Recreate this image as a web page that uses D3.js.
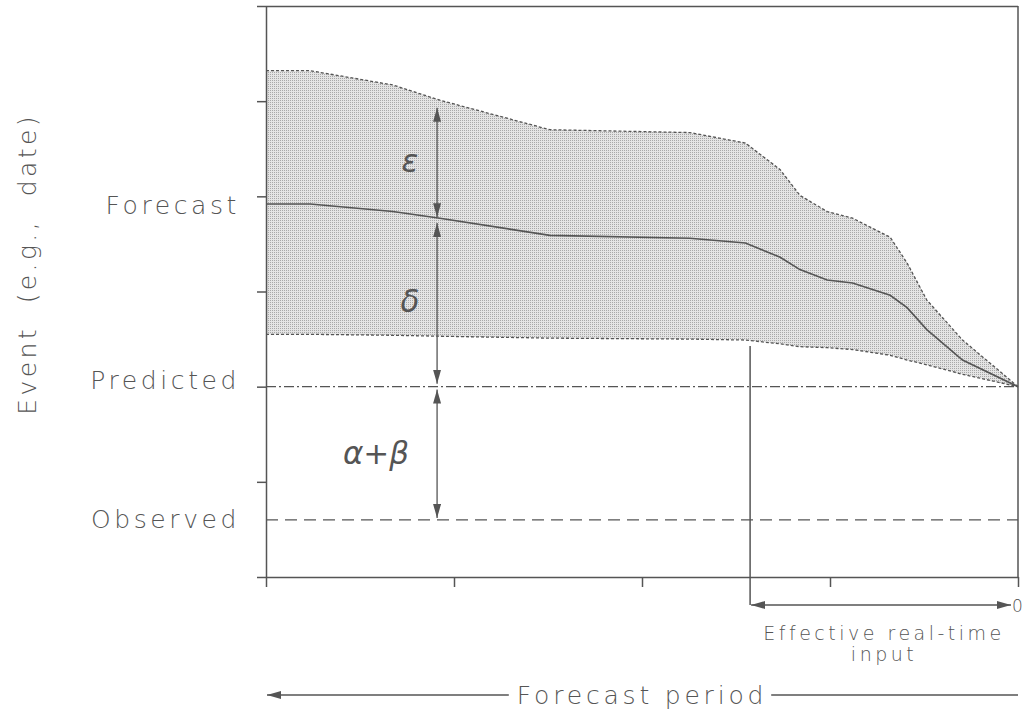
<!DOCTYPE html>
<html>
<head>
<meta charset="utf-8">
<script src="https://cdn.jsdelivr.net/npm/d3@7"></script>
<style>
  body { margin: 0; background: #fff; }
  svg text { font-family: "DejaVu Sans", sans-serif; fill: #555; font-weight: 200; }
</style>
</head>
<body>
<div id="chart"></div>
<script>
// forecast period (x units, 0 = start, 8 = event) and event values (y units)
const period = [0, 0.47, 1.35, 1.85, 3.02, 4.51, 5.10, 5.47, 5.68, 5.97, 6.24, 6.64, 6.82, 7.03, 7.41, 8];
const upperBound = [5.32, 5.32, 5.17, 5.01, 4.70, 4.67, 4.56, 4.28, 4.01, 3.84, 3.77, 3.57, 3.30, 2.91, 2.49, 2.00];
const forecast = [3.92, 3.92, 3.84, 3.77, 3.59, 3.56, 3.51, 3.36, 3.23, 3.12, 3.09, 2.96, 2.83, 2.60, 2.28, 2.00];
const lowerBound = [2.55, 2.55, 2.54, 2.53, 2.51, 2.50, 2.49, 2.45, 2.42, 2.41, 2.39, 2.33, 2.28, 2.23, 2.13, 2.00];

const predicted = 2;
const observed = 0.6;
const realTimeStart = 5.15;

const yTicks = [0, 1, 2, 3, 4, 5, 6];
const xTicks = [0, 2, 4, 6, 8];
const eventLabels = ['Forecast', 'Predicted', 'Observed'];
const eventValues = [4, 2, 0.6];

// error arrows: [from, to] in event units
const epsArrow = [4.93, 3.78];
const deltaArrow = [3.72, 2.03];
const abArrow = [1.97, 0.62];
const arrowAt = 1.82;

const width = 1023, height = 714;
const margin = {top: 6, right: 5, bottom: 137, left: 266};
const ink = '#555';

const svg = d3.select('#chart').append('svg')
    .attr('width', width).attr('height', height);

const x = d3.scaleLinear().domain([0, 8]).range([margin.left, width - margin.right]);
const y = d3.scaleLinear().domain([0, 6]).range([height - margin.bottom, margin.top]);

// stipple fill
const defs = svg.append('defs');
const pat = defs.append('pattern').attr('id', 'stipple')
    .attr('width', 2).attr('height', 2).attr('patternUnits', 'userSpaceOnUse');
pat.append('rect').attr('width', 2).attr('height', 2).attr('fill', '#e4e4e4');
pat.append('rect').attr('width', 1).attr('height', 1).attr('fill', '#a8a8a8');

defs.append('marker').attr('id', 'head')
    .attr('viewBox', '0 0 14 8').attr('refX', 14).attr('refY', 4)
    .attr('markerWidth', 14).attr('markerHeight', 8)
    .attr('markerUnits', 'userSpaceOnUse')
    .attr('orient', 'auto-start-reverse')
  .append('path').attr('d', 'M0,0L14,4L0,8Z').attr('fill', ink);

const pts = (vals) => period.map((p, i) => [p, vals[i]]);

// band
const band = pts(upperBound).concat(pts(lowerBound).reverse());
svg.append('path')
    .attr('d', d3.line().x(d => x(d[0])).y(d => y(d[1]))(band) + 'Z')
    .attr('fill', 'url(#stipple)');

const line = d3.line().x(d => x(d[0])).y(d => y(d[1]));

svg.append('path').attr('d', line(pts(upperBound)))
    .attr('fill', 'none').attr('stroke', ink).attr('stroke-width', 1.3)
    .attr('stroke-dasharray', '3,2');
svg.append('path').attr('d', line(pts(lowerBound)))
    .attr('fill', 'none').attr('stroke', ink).attr('stroke-width', 1.3)
    .attr('stroke-dasharray', '3,2');
svg.append('path').attr('d', line(pts(forecast)))
    .attr('fill', 'none').attr('stroke', ink).attr('stroke-width', 1.6);

// predicted and observed levels
svg.append('line')
    .attr('x1', x(0)).attr('x2', x(8)).attr('y1', y(predicted)).attr('y2', y(predicted))
    .attr('stroke', ink).attr('stroke-width', 1.3).attr('stroke-dasharray', '10,3,2,3');
svg.append('line')
    .attr('x1', x(0)).attr('x2', x(8)).attr('y1', y(observed)).attr('y2', y(observed))
    .attr('stroke', ink).attr('stroke-width', 1.3).attr('stroke-dasharray', '12,7');

// frame
svg.append('line').attr('x1', x(0)).attr('x2', x(8)).attr('y1', y(6) + 0.5).attr('y2', y(6) + 0.5)
    .attr('stroke', ink).attr('stroke-width', 1.5);
svg.append('line').attr('x1', x(8)).attr('x2', x(8)).attr('y1', y(6)).attr('y2', y(0))
    .attr('stroke', ink).attr('stroke-width', 1.5);

const yAxis = svg.append('g').attr('transform', `translate(${x(0)},0)`)
    .call(d3.axisLeft(y).tickValues(yTicks).tickSize(9).tickSizeOuter(0).tickFormat(''));
const xAxis = svg.append('g').attr('transform', `translate(0,${y(0)})`)
    .call(d3.axisBottom(x).tickValues(xTicks).tickSize(10).tickSizeOuter(0).tickFormat(''));
[yAxis, xAxis].forEach(g => {
    g.selectAll('path, line').attr('stroke', ink).attr('stroke-width', 1.5);
});

// event labels
const labelShift = [11, -5, 1];
svg.selectAll('.evlab').data(eventLabels).join('text')
    .attr('class', 'evlab')
    .attr('x', 240)
    .attr('y', (d, i) => y(eventValues[i]) + labelShift[i])
    .attr('text-anchor', 'end')
    .attr('dominant-baseline', 'middle')
    .style('font-size', '25px').style('letter-spacing', '3.6px')
    .text(d => d);

svg.append('text')
    .attr('transform', `translate(36,${y(3.29)}) rotate(-90)`)
    .attr('text-anchor', 'middle')
    .style('font-size', '25px').style('letter-spacing', '3.4px')
    .attr('xml:space', 'preserve')
    .text('Event  (e.g.,  date)');

// error arrows
[epsArrow, deltaArrow, abArrow].forEach(a => {
    svg.append('line')
        .attr('x1', x(arrowAt)).attr('x2', x(arrowAt))
        .attr('y1', y(a[0])).attr('y2', y(a[1]))
        .attr('stroke', ink).attr('stroke-width', 1.3)
        .attr('marker-start', 'url(#head)').attr('marker-end', 'url(#head)');
});

const greek = svg.append('g')
    .style('font-style', 'italic').style('font-size', '31px');
greek.append('text').attr('x', 410).attr('y', y((epsArrow[0] + epsArrow[1]) / 2) + 9)
    .attr('text-anchor', 'middle').text('ε');
greek.append('text').attr('x', 410).attr('y', y((deltaArrow[0] + deltaArrow[1]) / 2) + 9)
    .attr('text-anchor', 'middle').text('δ');
greek.append('text').attr('x', 376).attr('y', y((abArrow[0] + abArrow[1]) / 2) + 10)
    .attr('text-anchor', 'middle').text('α+β');

// effective real-time input
svg.append('line')
    .attr('x1', x(realTimeStart)).attr('x2', x(realTimeStart))
    .attr('y1', y(lowerBound[6]) + 6).attr('y2', y(0) + 28)
    .attr('stroke', ink).attr('stroke-width', 1.5);
svg.append('line')
    .attr('x1', x(realTimeStart) + 1).attr('x2', x(8) - 7)
    .attr('y1', y(0) + 28).attr('y2', y(0) + 28)
    .attr('stroke', ink).attr('stroke-width', 1.3)
    .attr('marker-start', 'url(#head)').attr('marker-end', 'url(#head)');
svg.append('text').attr('x', x(8) - 6).attr('y', y(0) + 35)
    .style('font-size', '17px').text('0');
svg.append('text').attr('x', (x(realTimeStart) + x(8)) / 2).attr('y', y(0) + 63)
    .attr('text-anchor', 'middle')
    .style('font-size', '19px').style('letter-spacing', '3.5px')
    .text('Effective real-time');
svg.append('text').attr('x', (x(realTimeStart) + x(8)) / 2).attr('y', y(0) + 84)
    .attr('text-anchor', 'middle')
    .style('font-size', '19px').style('letter-spacing', '3.5px')
    .text('input');

// forecast period
const fpY = y(0) + 118;
const fp = svg.append('text').attr('x', x(4)).attr('y', fpY + 9)
    .attr('text-anchor', 'middle')
    .style('font-size', '25px').style('letter-spacing', '3.8px')
    .text('Forecast period');
const fpW = fp.node().getComputedTextLength();
svg.append('line')
    .attr('x1', x(4) - fpW / 2 - 8).attr('x2', x(0) + 1)
    .attr('y1', fpY).attr('y2', fpY)
    .attr('stroke', ink).attr('stroke-width', 1.3)
    .attr('marker-end', 'url(#head)');
svg.append('line')
    .attr('x1', x(4) + fpW / 2 + 4).attr('x2', x(8))
    .attr('y1', fpY).attr('y2', fpY)
    .attr('stroke', ink).attr('stroke-width', 1.3);
</script>
</body>
</html>
